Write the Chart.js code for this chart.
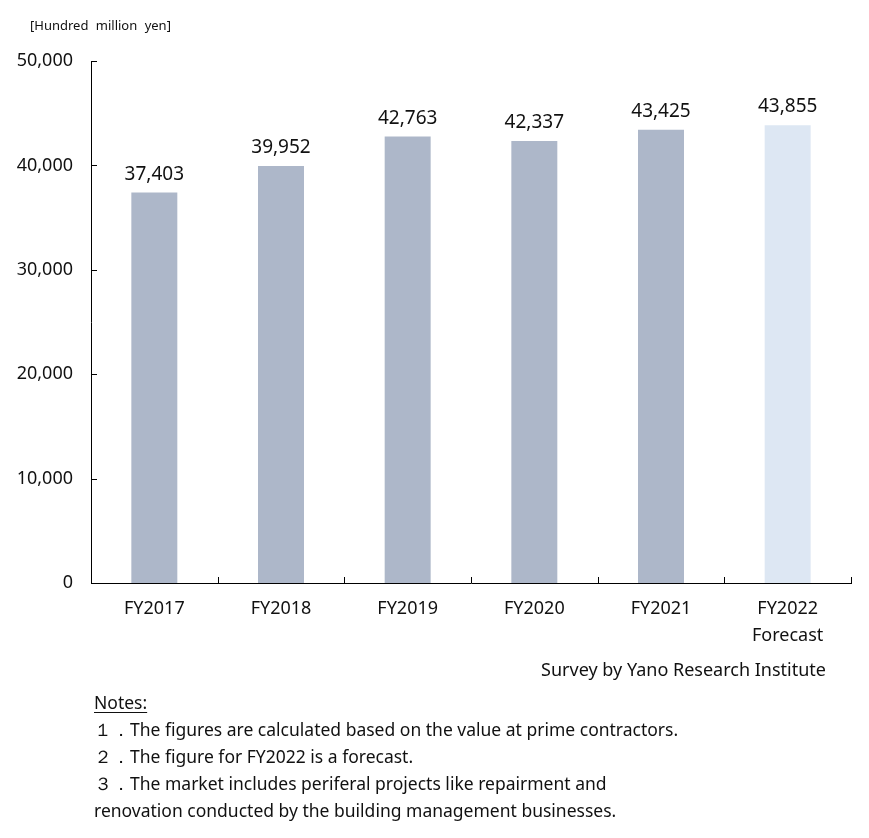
<!DOCTYPE html>
<html>
<head>
<meta charset="utf-8">
<script src="https://cdn.jsdelivr.net/npm/chart.js@4"></script>
<style>
  html, body { margin: 0; padding: 0; background: #fff; }
  body { width: 869px; height: 838px; position: relative; overflow: hidden; font-family: "Noto Sans", sans-serif; color: #111; }
  #chart { position: absolute; left: 0; top: 0; }
  .unit { position: absolute; left: 30px; top: 16px; font-size: 13px; word-spacing: 4px; }
  .source { position: absolute; right: 43px; top: 657px; font-size: 18px; }
  .notes { position: absolute; left: 94px; top: 689px; font-size: 17.5px; line-height: 27px; }
  .notes u { text-decoration-thickness: 1px; text-underline-offset: 3px; }
</style>
</head>
<body>
<canvas id="chart" width="869" height="700"></canvas>
<div class="unit">[Hundred million yen]</div>
<div class="source">Survey by Yano Research Institute</div>
<div class="notes">
  <div><u>Notes:</u></div>
  <div>１．The figures are calculated based on the value at prime contractors.</div>
  <div>２．The figure for FY2022 is a forecast.</div>
  <div>３．The market includes periferal projects like repairment and</div>
  <div>renovation conducted by the building management businesses.</div>
</div>
<script>
const categories = [['FY2017'], ['FY2018'], ['FY2019'], ['FY2020'], ['FY2021'], ['FY2022', 'Forecast']];
const marketSize = [37403, 39952, 42763, 42337, 43425, 43855];
const yTicks = [0, 10000, 20000, 30000, 40000, 50000];
const barColors = ['#adb7c9', '#adb7c9', '#adb7c9', '#adb7c9', '#adb7c9', '#dde7f3'];

const family = '"Noto Sans", sans-serif';

// ticks point into the plot, which Chart.js does not do by itself
const inwardTicks = {
    id: 'inwardTicks',
    afterDraw(chart) {
        const { ctx, chartArea: a, scales: { x, y } } = chart;
        ctx.save();
        ctx.strokeStyle = '#000';
        ctx.lineWidth = 1;
        ctx.beginPath();
        y.ticks.forEach(t => {
            const py = Math.round(y.getPixelForValue(t.value)) + 0.5;
            ctx.moveTo(a.left, py);
            ctx.lineTo(a.left + 6, py);
        });
        for (let i = 0; i <= categories.length; i++) {
            const px = Math.round(x.getPixelForValue(i - 0.5)) + 0.5;
            ctx.moveTo(px, a.bottom);
            ctx.lineTo(px, a.bottom - 6);
        }
        ctx.stroke();
        ctx.restore();
    }
};

const valueLabels = {
    id: 'valueLabels',
    afterDatasetsDraw(chart) {
        const { ctx } = chart;
        const meta = chart.getDatasetMeta(0);
        ctx.save();
        ctx.font = '19px ' + family;
        ctx.fillStyle = '#111';
        ctx.textAlign = 'center';
        ctx.textBaseline = 'alphabetic';
        meta.data.forEach((bar, i) => {
            ctx.fillText(marketSize[i].toLocaleString('en-US'), bar.x, bar.y - 13);
        });
        ctx.restore();
    }
};

new Chart(document.getElementById('chart').getContext('2d'), {
    type: 'bar',
    data: {
        labels: categories,
        datasets: [{
            data: marketSize,
            backgroundColor: barColors,
            borderWidth: 0,
            barPercentage: 0.363,
            categoryPercentage: 1
        }]
    },
    options: {
        responsive: false,
        devicePixelRatio: 1,
        animation: false,
        layout: { padding: { top: 61, right: 18, left: 0, bottom: 0 } },
        plugins: {
            legend: { display: false },
            tooltip: { enabled: false }
        },
        scales: {
            x: {
                grid: { display: false, drawTicks: false },
                border: { display: true, color: '#000', width: 1 },
                ticks: { font: { family: family, size: 18, lineHeight: 1.5 }, color: '#111', padding: 12, maxRotation: 0 },
                afterFit(scale) { scale.height = 117; }
            },
            y: {
                min: 0,
                max: 50000,
                afterBuildTicks(scale) { scale.ticks = yTicks.map(v => ({ value: v })); },
                grid: { display: false, drawTicks: false },
                border: { display: true, color: '#000', width: 1 },
                ticks: {
                    font: { family: family, size: 18 },
                    color: '#111',
                    padding: 18,
                    callback: v => v.toLocaleString('en-US')
                },
                afterFit(scale) { scale.width = 91; }
            }
        }
    },
    plugins: [inwardTicks, valueLabels]
});
</script>
</body>
</html>
